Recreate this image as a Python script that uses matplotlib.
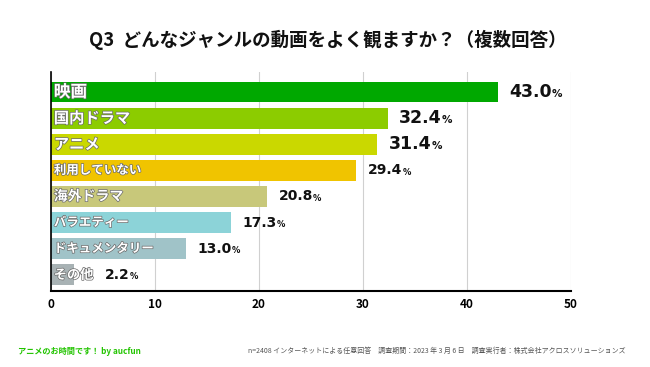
import matplotlib
matplotlib.use("Agg")
import matplotlib.pyplot as plt
import matplotlib.patheffects as pe

plt.rcParams["font.family"] = ["Noto Sans CJK JP", "DejaVu Sans"]

# data
genres = ["映画", "国内ドラマ", "アニメ", "利用していない", "海外ドラマ",
          "バラエティー", "ドキュメンタリー", "その他"]
shares = [43.0, 32.4, 31.4, 29.4, 20.8, 17.3, 13.0, 2.2]
colors = ["#00a800", "#8ccc00", "#cad800", "#f0c400", "#c8c87a",
          "#8cd3d8", "#a0c3c8", "#a8b2b4"]
label_sizes = [12, 11, 11, 9, 10, 9, 9, 9.5]
value_sizes = [12.5, 12.5, 12.5, 10, 10, 10, 10, 10]
x_ticks = [0, 10, 20, 30, 40, 50]

title = "Q3  どんなジャンルの動画をよく観ますか？（複数回答）"
credit = "アニメのお時間です！ by aucfun"
note = ("n=2408 インターネットによる任意回答　調査期間：2023 年 3 月 6 日　"
        "調査実行者：株式会社アクロスソリューションズ")

fig = plt.figure(figsize=(6.5, 3.67), dpi=100)
ax = fig.add_axes([0.078, 0.207, 0.80, 0.597])

pos = list(range(len(genres)))
ax.barh(pos, shares, height=0.8, color=colors, zorder=2)

ax.set_xlim(0, 50)
ax.set_ylim(7.62, -0.77)
ax.set_xticks(x_ticks)
ax.set_xticklabels([str(t) for t in x_ticks], fontsize=8.5, fontweight="bold")
ax.set_yticks([])
ax.tick_params(axis="x", length=0, pad=5)
ax.grid(axis="x", color="#d0d0d0", linewidth=0.8, zorder=0)
for side in ["top", "right"]:
    ax.spines[side].set_visible(False)
ax.spines["bottom"].set_linewidth(1.5)
ax.spines["left"].set_linewidth(1.2)

renderer = fig.canvas.get_renderer()
inv = ax.transData.inverted()
num_font = ["DejaVu Sans"]

for i, (name, val) in enumerate(zip(genres, shares)):
    lab = ax.text(0.3, i, name, ha="left", va="center", color="white",
                  fontsize=label_sizes[i], fontweight="bold", zorder=3,
                  path_effects=[pe.withStroke(linewidth=1.0, foreground="#6a6a6a")])
    lab_end = inv.transform(lab.get_window_extent(renderer).p1)[0]
    x0 = max(val, lab_end) + 1.1
    num = ax.text(x0, i, f"{val:.1f}", ha="left", va="center", family=num_font,
                  fontsize=value_sizes[i], fontweight="bold", color="#111111")
    num_end = inv.transform(num.get_window_extent(renderer).p1)[0]
    ax.text(num_end, i + 0.07, "%", ha="left", va="center", family=num_font,
            fontsize=value_sizes[i] * 0.6, fontweight="bold", color="#111111")

fig.text(0.505, 0.89, title, ha="center", va="center", fontsize=13.3,
         fontweight="bold", color="#111111")
fig.text(0.028, 0.043, credit, ha="left", va="center", fontsize=5.9,
         fontweight="bold", color="#22c400")
fig.text(0.962, 0.043, note, ha="right", va="center", fontsize=5,
         color="#555555")

fig.savefig("out.png", dpi=100)
